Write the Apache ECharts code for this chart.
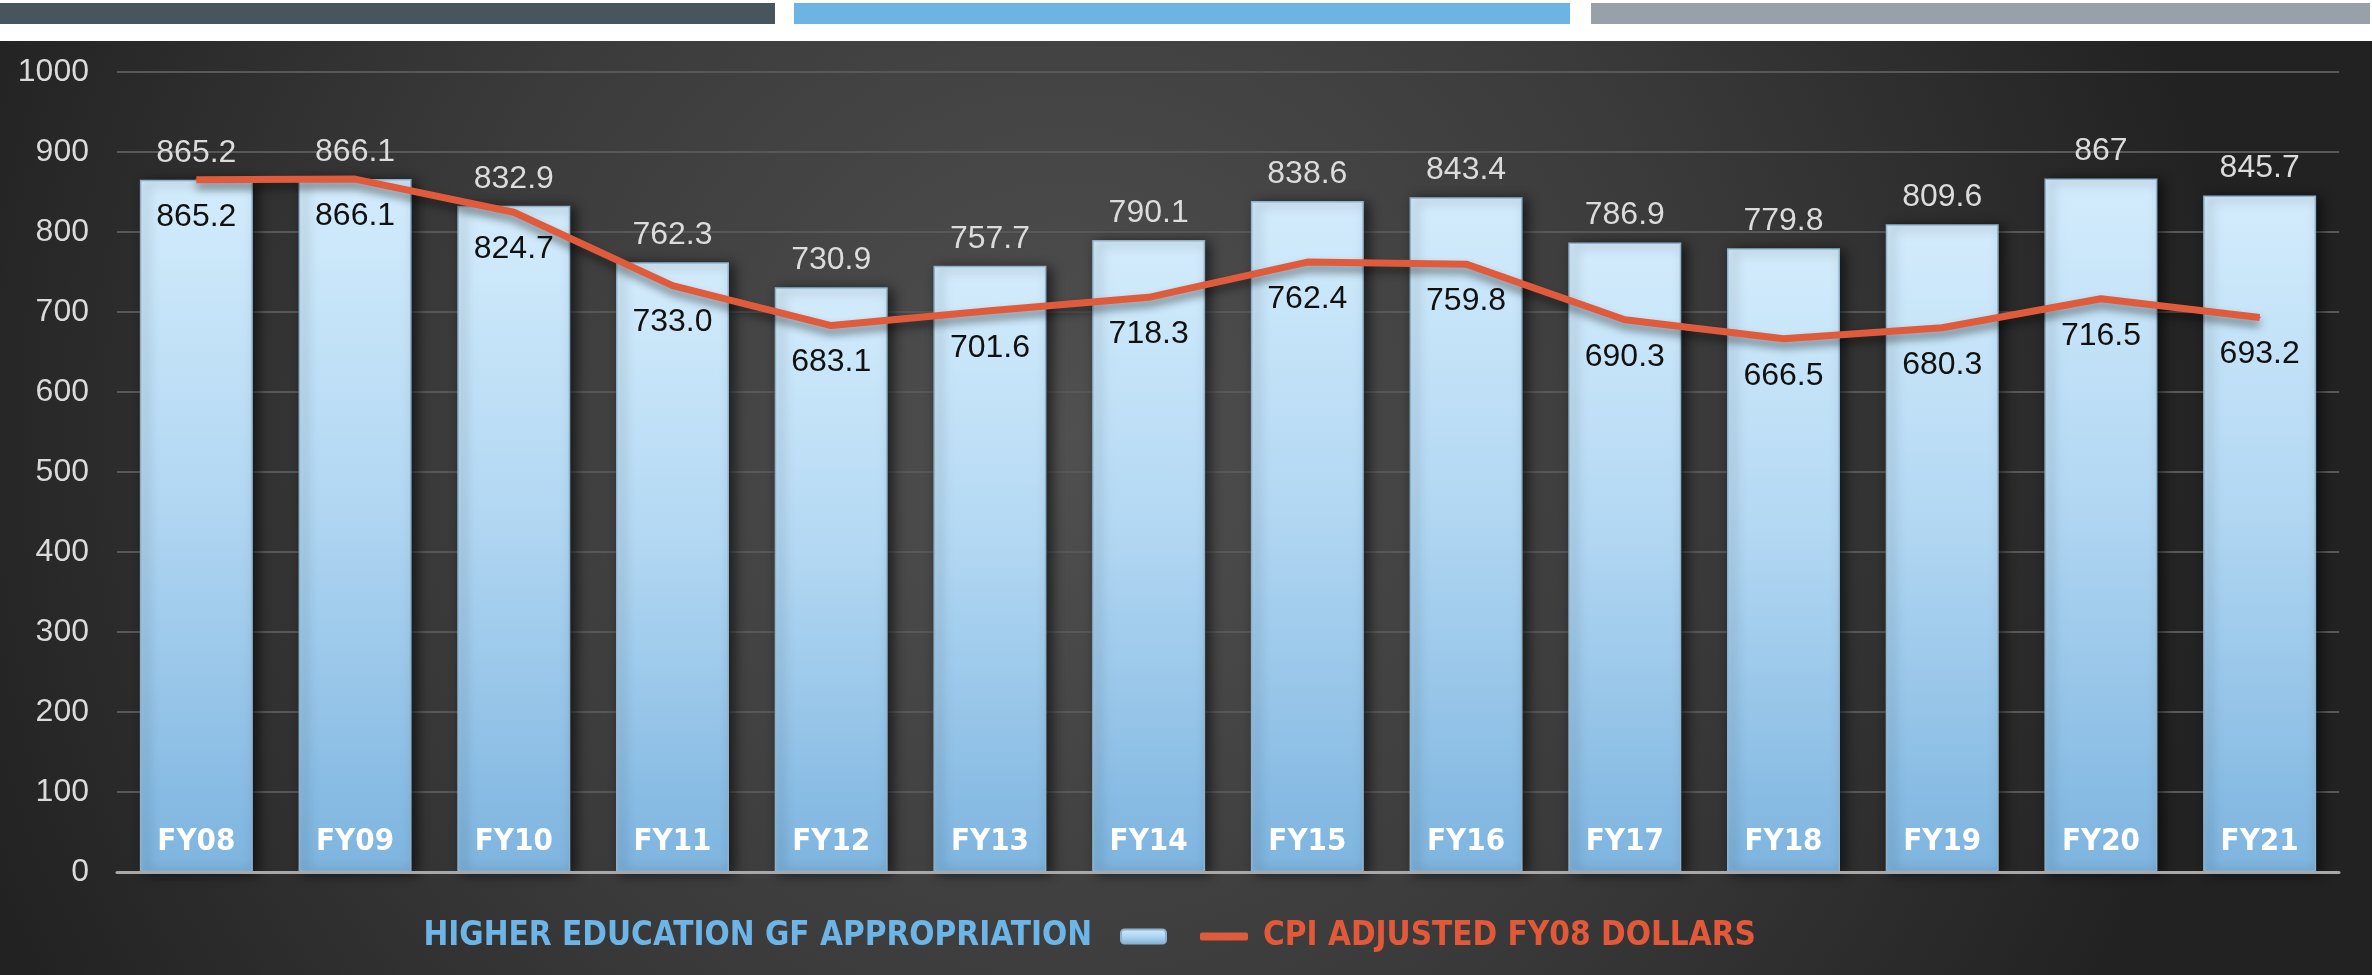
<!DOCTYPE html>
<html>
<head>
<meta charset="utf-8">
<script src="https://cdn.jsdelivr.net/npm/echarts@6/dist/echarts.min.js"></script>
<style>
  html, body { margin: 0; padding: 0; background: #fff; }
  #chart { width: 2372px; height: 975px; }
</style>
</head>
<body>
<div id="chart"></div>
<script>
// fiscal years on the x axis
var years = ["FY08", "FY09", "FY10", "FY11", "FY12", "FY13", "FY14",
             "FY15", "FY16", "FY17", "FY18", "FY19", "FY20", "FY21"];
// bars: GF appropriation
var appropriation = [865.2, 866.1, 832.9, 762.3, 730.9, 757.7, 790.1,
                     838.6, 843.4, 786.9, 779.8, 809.6, 867, 845.7];
// line: CPI adjusted to FY08 dollars
var cpiAdjusted = [865.2, 866.1, 824.7, 733.0, 683.1, 701.6, 718.3,
                   762.4, 759.8, 690.3, 666.5, 680.3, 716.5, 693.2];

var barName = "HIGHER EDUCATION GF APPROPRIATION";
var lineName = "CPI ADJUSTED FY08 DOLLARS";
var narrow = '"Liberation Sans Narrow", "DejaVu Sans Condensed", sans-serif';
var plain = '"Liberation Sans", Arial, sans-serif';

var chart = echarts.init(document.getElementById("chart"));

var option = {
  backgroundColor: "#fff",
  animation: false,
  graphic: [
    {
      type: "rect", z: -10, silent: true,
      shape: { x: 0, y: 41, width: 2372, height: 934 },
      style: {
        fill: new echarts.graphic.RadialGradient(0.45, 0.42, 1.25, [
          { offset: 0, color: "#505050" },
          { offset: 0.55, color: "#3a3a3a" },
          { offset: 1, color: "#222" }
        ])
      }
    },
    { type: "rect", z: -10, silent: true, shape: { x: 0, y: 3, width: 775, height: 21 }, style: { fill: "#47555d" } },
    { type: "rect", z: -10, silent: true, shape: { x: 794, y: 3, width: 776, height: 21 }, style: { fill: "#6db4e2" } },
    { type: "rect", z: -10, silent: true, shape: { x: 1591, y: 3, width: 779, height: 21 }, style: { fill: "#98a0aa" } }
  ],
  grid: { left: 117, right: 33, top: 72, bottom: 103 },
  legend: [
    {
      data: [barName],
      align: "right",
      right: 1200,
      top: 915,
      itemWidth: 45,
      itemHeight: 14,
      textStyle: {
        color: "#6cb5e6", fontFamily: narrow, fontWeight: "bold", fontSize: 33,
        padding: [0, 24, 0, 0]
      }
    },
    {
      data: [lineName],
      icon: "roundRect",
      left: 1195,
      top: 915,
      itemWidth: 48,
      itemHeight: 8,
      textStyle: {
        color: "#e2593a", fontFamily: narrow, fontWeight: "bold", fontSize: 33,
        padding: [0, 0, 0, 10]
      }
    }
  ],
  xAxis: {
    type: "category",
    data: years,
    z: 10,
    axisTick: { show: false },
    axisLine: { lineStyle: { color: "#a8a8a8", width: 3 } },
    axisLabel: {
      inside: true,
      margin: 15,
      color: "#fff",
      fontFamily: narrow,
      fontWeight: "bold",
      fontSize: 31
    }
  },
  yAxis: {
    type: "value",
    min: 0,
    max: 1000,
    interval: 100,
    axisLine: { show: false },
    axisTick: { show: false },
    axisLabel: {
      color: "#dadada", fontFamily: plain, fontSize: 32, margin: 28,
      formatter: function (v) { return String(v); }
    },
    splitLine: { lineStyle: { color: "#585858", width: 2 } }
  },
  series: [
    {
      name: barName,
      type: "bar",
      data: appropriation,
      barWidth: 113,
      itemStyle: {
        color: new echarts.graphic.LinearGradient(0, 0, 0, 1, [
          { offset: 0, color: "#d3ecfc" },
          { offset: 0.45, color: "#b3d8f3" },
          { offset: 1, color: "#7db4df" }
        ]),
        borderColor: "#8eb2cb",
        borderWidth: 1.5,
        shadowColor: "rgba(0,0,0,0.6)",
        shadowBlur: 12,
        shadowOffsetX: 5,
        shadowOffsetY: 2
      },
      label: {
        show: true,
        position: "top",
        distance: 11,
        color: "#dcdcdc",
        fontFamily: plain,
        fontSize: 32
      }
    },
    {
      name: lineName,
      type: "line",
      data: cpiAdjusted,
      symbol: "circle",
      symbolSize: 2,
      z: 5,
      itemStyle: { color: "#e05b3b" },
      lineStyle: {
        color: "#e05b3b",
        width: 7,
        shadowColor: "rgba(0,0,0,0.45)",
        shadowBlur: 8,
        shadowOffsetY: 6
      },
      label: {
        show: true,
        position: "bottom",
        distance: 20,
        color: "#111",
        fontFamily: plain,
        fontSize: 32,
        formatter: function (p) { return p.value.toFixed(1); }
      }
    }
  ]
};

chart.setOption(option);
</script>
</body>
</html>
